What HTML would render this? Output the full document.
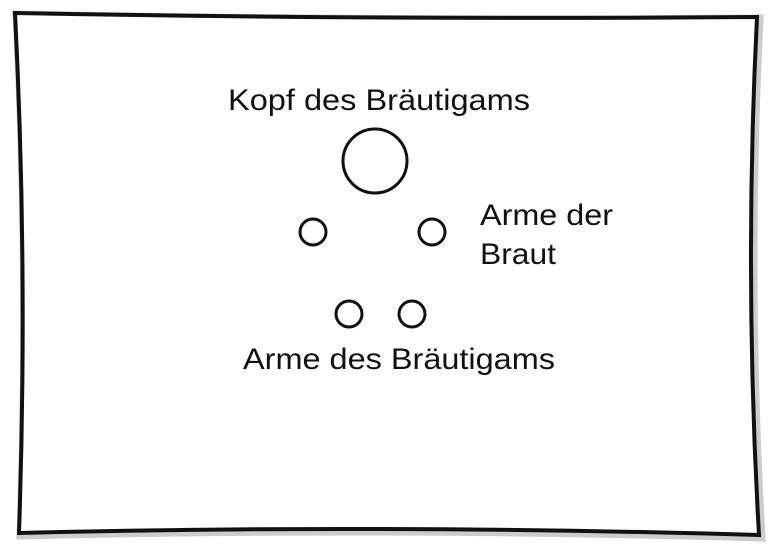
<!DOCTYPE html>
<html><head><meta charset="utf-8"><style>
html,body{margin:0;padding:0;background:#fff;}
svg{display:block;}
text{font-family:"Liberation Sans",sans-serif;font-size:30px;fill:#111;}
</style></head><body>
<svg width="777" height="549" viewBox="0 0 777 549">
<path d="M15,13 Q380,20 757,17 Q744,275 759,535 Q380,524 19,533 Q28,270 15,13 Z" fill="none" stroke="#ccc" stroke-width="9" transform="translate(2,2)"/>
<path d="M15,13 Q380,20 757,17 Q744,275 759,535 Q380,524 19,533 Q28,270 15,13 Z" fill="#fff" stroke="#111" stroke-width="4"/>
<text x="228" y="110" textLength="302" lengthAdjust="spacingAndGlyphs">Kopf des Bräutigams</text>
<circle cx="375" cy="161" r="32" fill="none" stroke="#111" stroke-width="3"/>
<circle cx="313" cy="232" r="13" fill="none" stroke="#111" stroke-width="3"/>
<circle cx="432" cy="232" r="13" fill="none" stroke="#111" stroke-width="3"/>
<circle cx="349" cy="314" r="13" fill="none" stroke="#111" stroke-width="3"/>
<circle cx="412" cy="314" r="13" fill="none" stroke="#111" stroke-width="3"/>
<text x="480" y="225" textLength="133" lengthAdjust="spacingAndGlyphs">Arme der</text>
<text x="480" y="264" textLength="76" lengthAdjust="spacingAndGlyphs">Braut</text>
<text x="243" y="369" textLength="312" lengthAdjust="spacingAndGlyphs">Arme des Bräutigams</text>
</svg>
</body></html>
